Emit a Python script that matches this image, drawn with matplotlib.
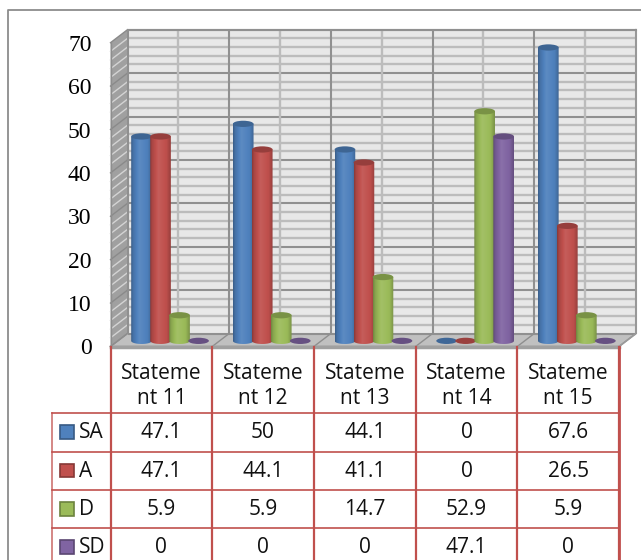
import numpy as np
import matplotlib
matplotlib.use("Agg")
import matplotlib.pyplot as plt
from matplotlib.colors import to_rgb
from matplotlib.patches import Ellipse, PathPatch, Polygon, Rectangle
from matplotlib.path import Path

categories = ["Stateme\nnt 11", "Stateme\nnt 12", "Stateme\nnt 13", "Stateme\nnt 14", "Stateme\nnt 15"]
series_names = ["SA", "A", "D", "SD"]
sa = [47.1, 50, 44.1, 0, 67.6]
a = [47.1, 44.1, 41.1, 0, 26.5]
d = [5.9, 5.9, 14.7, 52.9, 5.9]
sd = [0, 0, 0, 47.1, 0]
series = [sa, a, d, sd]
colors = ["#4F81BD", "#C0504D", "#9BBB59", "#8064A2"]
yticks = [0, 10, 20, 30, 40, 50, 60, 70]

W, H = 641, 560
X0, CATW = 110.5, 101.7      # px of category origin, px per category
Y0, UNIT = 346.5, 4.34       # px of value 0, px per unit
DX, DY = 17 / CATW, 13 / UNIT  # depth of the 3-D box
n = len(categories)

fig = plt.figure(figsize=(W / 100, H / 100), dpi=100, facecolor="white")
ax = fig.add_axes([0, 0, 1, 1])
ax.axis("off")


def shade(c, f):
    r = np.array(to_rgb(c))
    return tuple(r * f if f <= 1 else r + (1 - r) * (f - 1))


# walls
ax.add_patch(Polygon([(DX, DY), (n + DX, DY), (n + DX, 70 + DY), (DX, 70 + DY)], fc="#E8E8E8", ec="none", zorder=1))
ax.add_patch(Polygon([(0, 0), (DX, DY), (DX, 70 + DY), (0, 70)], fc="#A0A0A0", ec="none", zorder=1))
ax.add_patch(Polygon([(0, 0), (n, 0), (n + DX, DY), (DX, DY)], fc="#C0C0C0", ec="none", zorder=1))

# grid
for v in range(0, 71, 2):
    major = v % 10 == 0
    col = "#909090" if major else "#BCBCBC"
    lw = 1.5 if major else 1.7
    ax.plot([DX, n + DX], [v + DY, v + DY], color=col, lw=lw, zorder=2, solid_capstyle="butt")
    ax.plot([0, DX], [v, v + DY], color="#8A8A8A" if major else "#D4D4D4", lw=1.0, zorder=2)
for k in np.arange(0, n + 0.01, 0.5):
    major = float(k).is_integer()
    ax.plot([k + DX, k + DX], [DY, 70 + DY], color="#909090" if major else "#BCBCBC",
            lw=1.5 if major else 1.7, zorder=2, solid_capstyle="butt")
    if major:
        ax.plot([k, k + DX], [0, DY], color="#8E8E8E", lw=1.0, zorder=2)
ax.plot([0, n, n + DX, n + DX], [0, 0, DY, 70 + DY], color="#9A9A9A", lw=1.2, zorder=2)
ax.plot([DX, n + DX], [70 + DY, 70 + DY], color="#909090", lw=1.5, zorder=2)
ax.plot([0, n], [0, 0], color="#A0A0A0", lw=2.5, zorder=2)
ax.plot([0, 0], [0, 70], color="#8E8E8E", lw=1.0, zorder=2)

# cylinders
BW, STEP, FIRST = 0.203, 0.187, 0.305
BASE = 1.3
EH = 0.72
t = np.linspace(0, np.pi, 40)
prof = np.interp(np.linspace(0, 1, 64), [0, 0.1, 0.4, 0.8, 1], [0.72, 0.88, 1.08, 0.98, 0.78])
z = 10
for i, (vals, c) in enumerate(zip(series, colors)):
    grad = np.array([[shade(c, f) for f in prof]])
    for k, v in enumerate(vals):
        cx = k + FIRST + i * STEP
        z += 1
        if v == 0:
            ax.add_patch(Ellipse((cx, BASE), BW, 2 * EH, fc=shade(c, 0.8), ec="none", zorder=z))
            continue
        xs = np.r_[cx - BW / 2, cx + BW / 2, cx + BW / 2 * np.cos(t)]
        ys = np.r_[BASE + v, BASE + v, BASE - EH * np.sin(t)]
        pth = Path(np.c_[xs, ys])
        clip = PathPatch(pth, transform=ax.transData, fc="none", ec="none")
        ax.add_patch(clip)
        im = ax.imshow(grad, extent=[cx - BW / 2, cx + BW / 2, BASE - EH, BASE + v],
                       aspect="auto", zorder=z, interpolation="bilinear")
        im.set_clip_path(clip)
        ax.add_patch(Ellipse((cx, BASE + v), BW, 2 * EH, fc=shade(c, 0.78), ec="none", zorder=z + 0.5))

ax.set_xlim(-X0 / CATW, (W - X0) / CATW)
ax.set_ylim(-(H - Y0) / UNIT, Y0 / UNIT)

# y tick labels
for v in yticks:
    ax.text(-19 / CATW, v, str(v), ha="right", va="center_baseline", family="Liberation Serif",
            fontsize=17, color="black", zorder=100)

# overlay in pixels: frame and data table
ov = fig.add_axes([0, 0, 1, 1], facecolor="none")
ov.axis("off")
ov.set_xlim(0, W)
ov.set_ylim(H, 0)
ov.plot([8, 8, W], [H, 10, 10], color="#8C8C8C", lw=1.3)

RED = "#C0504D"
col_x = [X0 + CATW * k for k in range(n + 1)]
row_y = [413, 451.5, 490, 528, 566]
tf = dict(family="Open Sans", fontsize=15, color="#111111", ha="center", va="center")
for x in col_x:
    ov.plot([x, x], [347, H], color=RED, lw=1.6)
ov.plot([col_x[-1], col_x[-1]], [347, H], color=RED, lw=2.0)
for y in row_y:
    ov.plot([51.5, col_x[-1]], [y, y], color=RED, lw=1.2)
ov.plot([51.5, 51.5], [413, H], color=RED, lw=1.2, alpha=0.8)
for k, lab in enumerate(categories):
    ov.text(col_x[k] + CATW / 2, 386, lab, linespacing=1.3, **tf)
for r, (name, vals, c) in enumerate(zip(series_names, series, colors)):
    cy = (row_y[r] + row_y[r + 1]) / 2
    ov.add_patch(Rectangle((60, cy - 7), 13.5, 13.5, fc=c, ec=shade(c, 0.7), lw=1.2))
    ov.text(79, cy + 0.5, name, family="Open Sans", fontsize=15, color="#111111", ha="left", va="center")
    for k, v in enumerate(vals):
        ov.text(col_x[k] + CATW / 2, cy + 0.5, f"{v:g}", **tf)

fig.savefig("out.png", dpi=100)
